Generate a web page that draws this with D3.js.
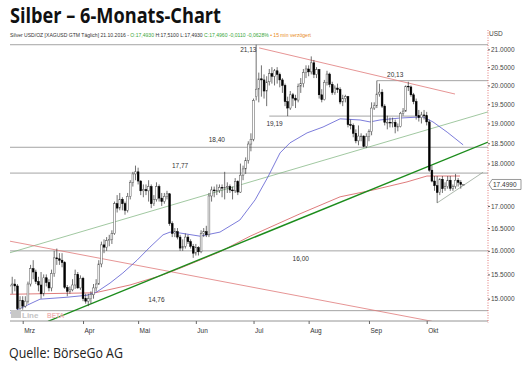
<!DOCTYPE html>
<html><head><meta charset="utf-8">
<script src="https://cdn.jsdelivr.net/npm/d3@7/dist/d3.min.js"></script>
<style>body{margin:0;background:#fff}svg{display:block}</style>
</head><body>
<script>
// ---------- DATA ----------
const dates = ["02-22","02-23","02-24","02-25","02-26","02-29",
"03-01","03-02","03-03","03-04","03-07","03-08","03-09","03-10","03-11","03-14","03-15","03-16","03-17","03-18","03-21","03-22","03-23","03-24","03-25","03-28","03-29","03-30","03-31",
"04-01","04-04","04-05","04-06","04-07","04-08","04-11","04-12","04-13","04-14","04-15","04-18","04-19","04-20","04-21","04-22","04-25","04-26","04-27","04-28","04-29",
"05-02","05-03","05-04","05-05","05-06","05-09","05-10","05-11","05-12","05-13","05-16","05-17","05-18","05-19","05-20","05-23","05-24","05-25","05-26","05-27","05-30","05-31",
"06-01","06-02","06-03","06-06","06-07","06-08","06-09","06-10","06-13","06-14","06-15","06-16","06-17","06-20","06-21","06-22","06-23","06-24","06-27","06-28","06-29","06-30",
"07-01","07-04","07-05","07-06","07-07","07-08","07-11","07-12","07-13","07-14","07-15","07-18","07-19","07-20","07-21","07-22","07-25","07-26","07-27","07-28","07-29",
"08-01","08-02","08-03","08-04","08-05","08-08","08-09","08-10","08-11","08-12","08-15","08-16","08-17","08-18","08-19","08-22","08-23","08-24","08-25","08-26","08-29","08-30","08-31",
"09-01","09-02","09-05","09-06","09-07","09-08","09-09","09-12","09-13","09-14","09-15","09-16","09-19","09-20","09-21","09-22","09-23","09-26","09-27","09-28","09-29","09-30",
"10-03","10-04","10-05","10-06","10-07","10-10","10-11","10-12","10-13","10-14","10-17","10-18","10-19","10-20","10-21"];

const openP = [15.45,15.25,15.28,15.30,15.26,14.80,
14.96,14.85,14.95,15.30,15.62,15.55,15.35,15.28,15.10,15.43,15.33,15.22,15.52,15.85,15.83,15.80,15.75,15.23,15.15,15.18,15.28,15.50,15.22,
15.42,15.00,14.95,15.00,15.08,15.22,15.30,15.72,16.13,16.08,16.22,16.25,16.38,17.05,16.95,17.15,17.05,16.90,17.22,17.55,17.75,
17.80,17.58,17.35,17.38,17.35,17.45,17.05,17.15,17.45,17.18,17.10,17.22,17.28,16.60,16.38,16.42,16.30,16.06,16.10,16.30,16.20,16.10,
15.95,16.07,15.98,16.38,16.42,16.35,17.23,17.37,17.35,17.36,17.43,17.42,17.43,17.45,17.37,17.35,17.57,17.32,17.72,17.87,18.08,18.48,
18.60,19.70,19.90,20.18,20.15,19.85,20.10,20.32,20.25,20.40,20.30,20.15,20.00,19.57,19.40,19.75,19.66,19.61,19.98,20.05,20.35,
20.45,20.37,20.62,20.30,20.43,19.75,19.62,20.08,20.31,20.03,19.81,19.93,19.89,19.56,19.65,19.70,18.97,18.95,18.75,18.56,18.68,18.68,18.42,
18.67,18.79,19.40,19.46,19.77,19.82,19.45,19.03,19.03,19.02,19.03,18.92,18.92,19.26,19.32,19.98,19.96,19.75,19.57,19.20,19.15,19.22,
19.20,19.04,17.84,17.58,17.47,17.31,17.62,17.40,17.45,17.60,17.41,17.45,17.60,17.55,17.493];

const highP = [15.55,15.38,15.45,15.40,15.30,15.05,
15.05,15.05,15.35,15.70,15.80,15.60,15.45,15.55,15.50,15.50,15.40,15.60,16.00,16.05,15.95,15.95,15.78,15.28,15.25,15.40,15.60,15.55,15.48,
15.45,15.10,15.10,15.15,15.30,15.40,15.80,16.20,16.25,16.30,16.35,16.45,17.10,17.25,17.30,17.20,17.10,17.30,17.60,17.80,17.95,
17.90,17.60,17.50,17.50,17.60,17.50,17.25,17.55,17.50,17.30,17.30,17.35,17.30,16.65,16.50,16.50,16.35,16.25,16.38,16.35,16.25,16.15,
16.15,16.10,16.45,16.50,16.55,17.30,17.45,17.45,17.50,17.50,17.50,17.80,17.55,17.50,17.45,17.65,17.60,18.00,17.95,18.15,18.55,18.75,
19.65,21.13,20.35,20.55,20.30,20.25,20.45,20.50,20.45,20.50,20.35,20.20,20.05,19.70,19.85,19.80,19.75,20.05,20.20,20.45,20.55,
20.55,20.80,20.70,20.50,20.45,19.90,20.15,20.40,20.35,20.10,20.00,20.05,19.95,19.75,19.75,19.72,19.10,19.00,18.85,18.95,18.75,18.70,18.75,
18.85,19.55,19.55,20.13,20.05,19.90,19.50,19.20,19.15,19.15,19.10,19.00,19.30,19.40,20.00,20.10,20.00,19.80,19.65,19.35,19.30,19.35,
19.30,19.10,17.95,17.70,17.70,17.65,17.70,17.55,17.70,17.70,17.50,17.75,17.65,17.60,17.51];

const lowP = [15.18,15.05,15.10,15.15,14.76,14.78,
14.78,14.82,14.90,15.25,15.40,15.30,15.15,15.00,15.05,15.25,15.15,15.15,15.45,15.70,15.70,15.65,15.20,15.05,15.10,15.15,15.20,15.20,15.18,
14.95,14.90,14.85,14.90,15.00,15.15,15.28,15.65,15.95,16.00,16.10,16.15,16.35,16.85,16.90,16.90,16.80,16.85,17.15,17.45,17.60,
17.50,17.25,17.20,17.25,17.10,16.95,17.00,17.10,17.10,17.00,17.05,17.15,16.55,16.30,16.30,16.25,16.00,16.00,16.05,16.15,16.05,15.85,
15.90,15.90,15.95,16.30,16.30,16.30,17.10,17.20,17.25,17.30,17.20,17.15,17.30,17.30,17.15,17.30,17.25,17.30,17.60,17.75,18.00,18.30,
18.55,19.60,19.55,19.70,19.65,19.45,20.00,20.05,20.00,20.05,19.95,19.80,19.45,19.19,19.35,19.45,19.40,19.55,19.80,19.95,20.20,
20.25,20.30,20.20,20.20,19.65,19.55,19.60,20.00,19.95,19.75,19.75,19.80,19.50,19.45,19.55,18.90,18.85,18.65,18.50,18.45,18.55,18.40,18.38,
18.55,18.70,19.35,19.40,19.70,19.40,18.95,18.85,18.90,18.90,18.75,18.80,18.90,19.20,19.30,19.85,19.70,19.50,19.10,19.05,19.00,19.10,
18.95,17.80,17.55,17.35,17.07,17.25,17.30,17.35,17.40,17.35,17.35,17.40,17.45,17.40,17.493];

const closeP = [15.25,15.28,15.30,15.26,14.80,14.96,
14.85,14.95,15.30,15.62,15.55,15.35,15.28,15.10,15.43,15.33,15.22,15.52,15.85,15.83,15.80,15.75,15.23,15.15,15.18,15.28,15.50,15.22,15.42,
15.00,14.95,15.00,15.08,15.22,15.30,15.72,16.13,16.08,16.22,16.25,16.38,17.05,16.95,17.15,17.05,16.90,17.22,17.55,17.75,17.80,
17.58,17.35,17.38,17.35,17.45,17.05,17.15,17.45,17.18,17.10,17.22,17.28,16.60,16.38,16.42,16.30,16.06,16.10,16.30,16.20,16.10,15.95,
16.07,15.98,16.38,16.42,16.35,17.23,17.37,17.35,17.36,17.43,17.42,17.43,17.45,17.37,17.35,17.57,17.32,17.72,17.87,18.08,18.48,18.60,
19.60,19.90,20.18,20.15,19.85,20.10,20.32,20.25,20.40,20.30,20.15,20.00,19.57,19.40,19.75,19.66,19.61,19.98,20.05,20.35,20.45,
20.37,20.62,20.30,20.43,19.75,19.62,20.08,20.31,20.03,19.81,19.93,19.89,19.56,19.65,19.70,18.97,18.95,18.75,18.56,18.68,18.68,18.42,18.67,
18.79,19.40,19.46,19.77,19.82,19.45,19.03,19.03,19.02,19.03,18.92,18.92,19.26,19.32,19.98,19.96,19.75,19.57,19.20,19.15,19.22,19.20,
19.04,17.84,17.58,17.47,17.31,17.62,17.40,17.45,17.60,17.41,17.45,17.60,17.55,17.50,17.496];

// moving averages: [trading-day index, price]
const maBlue = [[1.2,14.71],[12.6,14.99],[22.9,15.03],[30.5,15.07],[34.3,15.14],[39.3,15.32],[44.2,15.53],[49.6,15.80],[54.5,16.08],[59.5,16.35],[62.2,16.41],[66,16.39],[73.6,16.32],[81.2,16.41],[88.8,16.68],[94.6,17.14],[99.5,17.68],[104.1,18.26],[107.9,18.51],[114.4,18.76],[120.5,18.91],[127,19.12],[134.6,19.09],[138.4,19.04],[142.2,19.09],[149.8,19.14],[158.6,19.17],[162.4,19.04],[167.8,18.78],[173.9,18.46]];
const maRed = [[1.2,15.09],[33.6,15.12],[46.9,15.28],[58.4,15.47],[66,15.63],[81.2,15.98],[92.7,16.32],[111.7,16.82],[127,17.21],[139.6,17.37],[152.5,17.56],[160.1,17.70],[172.7,17.70]];

// trend lines: [[idx, price],[idx, price]]
const trendRedLow = [[1.16,16.21],[162.0,14.55]];
const trendRedHigh = [[96.1,21.04],[170.8,19.77]];
const trendGreenThick = [[15.65,14.55],[183.4,18.53]];
const trendGreenThin = [[1.16,15.96],[183.4,19.30]];
const trendTriangle = [[164.0,17.07],[181.5,17.79]];

// horizontal levels
const levelValues = [21.13, 20.13, 19.19, 18.40, 17.77, 16.00, 14.76];
const levelLabels = ["21,13","20,13","19,19","18,40","17,77","16,00","14,76"];
const levelFrom = [null, "09-06", "07-11", null, null, null, null];
const levelTo = [null, null, "10-03", null, null, null, null];
const levelLabelAt = ["06-29","09-15","07-13","06-13","05-24","07-27","05-11"];

// 17.5000 is covered by the last-price box in the reference
const yTicks = [15,15.5,16,16.5,17,18,18.5,19,19.5,20,20.5,21];
const monthStarts = ["03-01","04-01","05-02","06-01","07-01","08-01","09-01","10-03"];
const monthLabels = ["Mrz","Apr","Mai","Jun","Jul","Aug","Sep","Okt"];
const lastPrice = 17.4990;

// ---------- LAYOUT ----------
const W = 525, H = 365;
const pL = 10, pR = 488, pT = 28, pB = 321;
const svg = d3.select("body").append("svg").attr("width", W).attr("height", H)
  .style("font-family", "'Liberation Sans', Arial, sans-serif");

const idx = d => dates.indexOf(d);
const x = d3.scaleLinear().domain([0, dates.length - 1]).range([6.96, 463.4]);
const y = d3.scaleLog().domain([15, 21]).range([298.7, 49.3]);

svg.append("defs").append("clipPath").attr("id", "clip")
  .append("rect").attr("x", pL).attr("y", pT).attr("width", pR - pL).attr("height", pB - pT);

// Title
svg.append("text").attr("x", 10).attr("y", 23)
  .attr("font-family", "'Open Sans', 'DejaVu Sans', sans-serif")
  .attr("font-weight", 700).attr("font-size", 21).attr("fill", "#111")
  .attr("textLength", 211).attr("lengthAdjust", "spacingAndGlyphs")
  .text("Silber – 6-Monats-Chart");

// Header line
const hdr = svg.append("text").attr("x", 10).attr("y", 37).attr("font-size", 7);
[["Silver USD/OZ [XAGUSD GTM Täglich] 21.10.2016 - ", "#333"],
 ["O:17,4930", "#3aa63a"],
 [" H:17,5100 L:17,4930 ", "#333"],
 ["C:17,4960 -0,0110 -0,0628%", "#3aa63a"],
 [" • 15 min verzögert", "#e8891a"]].forEach(([t, c]) => hdr.append("tspan").attr("fill", c).text(t));
const hw = hdr.node().getComputedTextLength();
hdr.attr("font-size", 7 * 302 / hw);

svg.append("text").attr("x", 489).attr("y", 36).attr("font-size", 6.5).attr("fill", "#444").text("USD");

const plot = svg.append("g").attr("clip-path", "url(#clip)");

// level lines
levelValues.forEach((v, i) => {
  const x0 = levelFrom[i] ? x(idx(levelFrom[i])) : pL;
  const x1 = levelTo[i] ? x(idx(levelTo[i])) : pR;
  plot.append("line").attr("x1", x0).attr("x2", x1).attr("y1", y(v)).attr("y2", y(v))
    .attr("stroke", "#9a9a9a").attr("stroke-width", 0.9);
});
const labelDy = [7, -4, 10, -5, -5, 10, -8.5];
levelValues.forEach((v, i) => {
  svg.append("text").attr("x", x(idx(levelLabelAt[i]))).attr("y", y(v) + labelDy[i])
    .attr("text-anchor", "middle").attr("font-size", 6.5).attr("fill", "#333").text(levelLabels[i]);
});

const line = d3.line().x(d => x(d[0])).y(d => y(d[1]));
const drawLine = (data, color, w) => plot.append("path").datum(data).attr("d", line)
  .attr("fill", "none").attr("stroke", color).attr("stroke-width", w);

drawLine(trendGreenThin, "#78b078", 0.7);
drawLine(trendRedLow, "#e07a7a", 0.8);
drawLine(trendRedHigh, "#e07a7a", 0.8);
drawLine(maRed, "#d65a5a", 0.8);
drawLine(trendGreenThick, "#1c8c1c", 1.4);
drawLine(trendTriangle, "#8a9a8a", 0.7);
drawLine(maBlue, "#5a5ad0", 0.8);

// candles
const candles = plot.append("g");
dates.forEach((d, i) => {
  const cx = x(i);
  candles.append("line").attr("x1", cx).attr("x2", cx).attr("y1", y(highP[i])).attr("y2", y(lowP[i]))
    .attr("stroke", "#333").attr("stroke-width", 0.7);
  const up = closeP[i] >= openP[i];
  const yt = y(Math.max(openP[i], closeP[i])), yb = y(Math.min(openP[i], closeP[i]));
  candles.append("rect").attr("x", cx - 0.9).attr("width", 1.8)
    .attr("y", yt).attr("height", Math.max(0.7, yb - yt))
    .attr("fill", up ? "#fff" : "#000").attr("stroke", up ? "#555" : "#000").attr("stroke-width", 0.5);
});

// bottom axis
svg.append("line").attr("x1", pL).attr("x2", pR).attr("y1", pB).attr("y2", pB)
  .attr("stroke", "#888").attr("stroke-width", 0.9);
const xa = svg.append("g").attr("transform", `translate(0,${pB})`)
  .call(d3.axisBottom(x).tickValues(monthStarts.map(idx)).tickSize(3).tickPadding(4)
    .tickFormat((d, i) => monthLabels[i]));
xa.select(".domain").remove();
xa.selectAll("line").attr("stroke", "#666");
xa.selectAll("text").attr("text-anchor", "start").attr("dx", 1).attr("font-size", 6.5)
  .attr("fill", "#333").attr("font-family", "'Liberation Sans', Arial, sans-serif");

// right axis
svg.append("line").attr("x1", pR).attr("x2", pR).attr("y1", 30).attr("y2", 323)
  .attr("stroke", "#e06a6a").attr("stroke-width", 0.9).attr("stroke-dasharray", "1,1.5");
const ya = svg.append("g").attr("transform", `translate(${pR},0)`)
  .call(d3.axisRight(y).tickValues(yTicks).tickSize(2).tickPadding(1).tickFormat(d3.format(".4f")));
ya.select(".domain").remove();
ya.selectAll("line").attr("stroke", "#666");
ya.selectAll("text").attr("font-size", 6.5).attr("fill", "#444")
  .attr("font-family", "'Liberation Sans', Arial, sans-serif");

// last price marker
const ly = y(lastPrice);
svg.append("path").attr("d", `M${pR + 1},${ly} L${pR + 4},${ly - 5} L${pR + 33},${ly - 5} L${pR + 33},${ly + 5} L${pR + 4},${ly + 5} Z`)
  .attr("fill", "#fff").attr("stroke", "#555").attr("stroke-width", 0.6);
svg.append("text").attr("x", pR + 5).attr("y", ly + 2.3).attr("font-size", 6.5).attr("fill", "#333")
  .text(d3.format(".4f")(lastPrice));

// watermark
svg.append("rect").attr("x", 11).attr("y", 310).attr("width", 10).attr("height", 8).attr("fill", "#c8c8c8");
svg.append("text").attr("x", 22).attr("y", 318).attr("font-size", 8).attr("font-weight", 700)
  .attr("fill", "#c4c4c4").text("Line");
svg.append("text").attr("x", 47).attr("y", 318).attr("font-size", 6.5).attr("font-weight", 700)
  .attr("fill", "#f2b8b8").text("BETA");

// source
svg.append("text").attr("x", 9).attr("y", 358).attr("font-family", "'Open Sans', sans-serif")
  .attr("font-size", 15).attr("fill", "#222").attr("textLength", 114).attr("lengthAdjust", "spacingAndGlyphs")
  .text("Quelle: BörseGo AG");
</script>
</body></html>
